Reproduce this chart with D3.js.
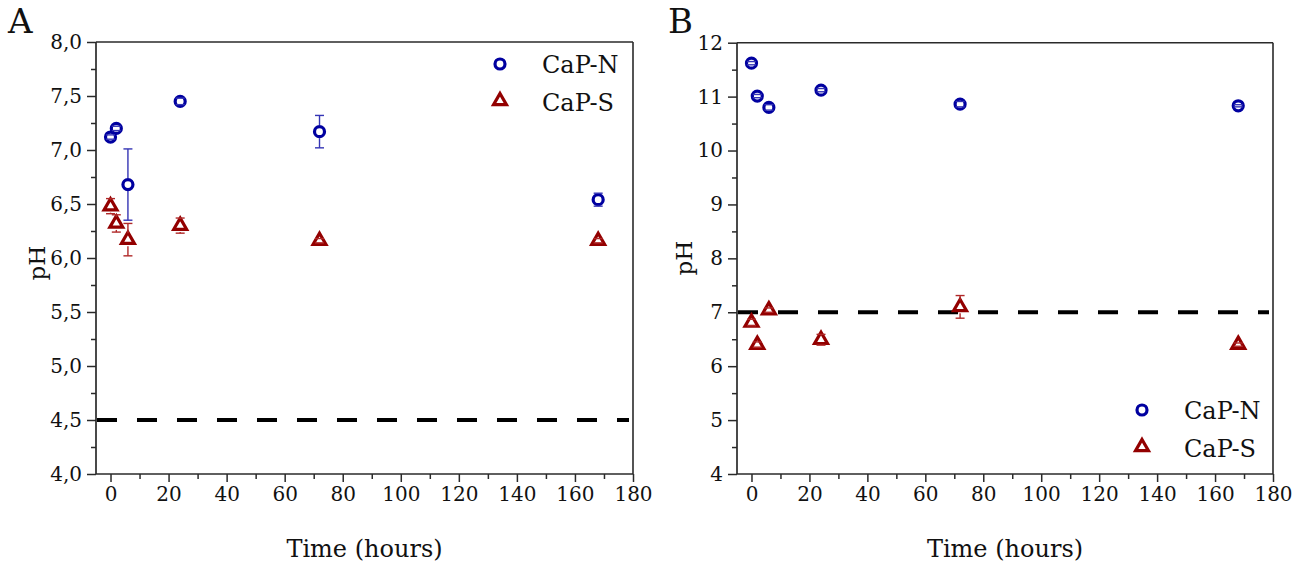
<!DOCTYPE html>
<html>
<head>
<meta charset="utf-8">
<script src="https://cdn.jsdelivr.net/npm/d3@7"></script>
<style>
  html, body { margin: 0; padding: 0; background: #fff; }
  svg { display: block; }
  text { font-family: "DejaVu Serif", "Liberation Serif", serif; fill: #111; }
</style>
</head>
<body>
<svg id="chart" width="1303" height="566"></svg>
<script>
// ---- data ----
const times = [0, 2, 6, 24, 72, 168];

const capN_A     = [7.12, 7.20, 6.68, 7.45, 7.17, 6.54];
const capN_A_err = [0.02, 0.02, 0.33, 0.03, 0.15, 0.06];
const capS_A     = [6.48, 6.32, 6.17, 6.30, 6.16, 6.16];
const capS_A_err = [0.07, 0.08, 0.15, 0.07, 0.02, 0.02];

const capN_B     = [11.62, 11.01, 10.80, 11.12, 10.86, 10.83];
const capN_B_err = [0.03, 0.03, 0.05, 0.03, 0.05, 0.02];
const capS_B     = [6.81, 6.40, 7.04, 6.49, 7.10, 6.40];
const capS_B_err = [0.06, 0.05, 0.04, 0.10, 0.21, 0.03];

const xTicks = [0, 20, 40, 60, 80, 100, 120, 140, 160, 180];
const yTicksA = [4.0, 4.5, 5.0, 5.5, 6.0, 6.5, 7.0, 7.5, 8.0];
const yTicksB = [4, 5, 6, 7, 8, 9, 10, 11, 12];
const refLineA = 4.5;
const refLineB = 7;
const seriesNames = ["CaP-N", "CaP-S"];
const panelLabels = ["A", "B"];
const xTitle = "Time (hours)";
const yTitle = "pH";

// ---- styles ----
const blue = "#0000a0", red = "#930000";
const blueErr = "#3535b5", redErr = "#b02828";
const axisCol = "#2a2a2a";

const svg = d3.select("#chart");

const panels = [
  { label: panelLabels[0], left: 96, right: 633, top: 42, bottom: 474,
    yDomain: [4, 8], yTicks: yTicksA, yMinorStep: 0.25, fmt: v => d3.format(".1f")(v).replace(".", ","),
    ref: refLineA, N: capN_A, Ne: capN_A_err, S: capS_A, Se: capS_A_err,
    legend: { x: 500, y1: 64, y2: 101 }, yTitleX: 37, yTitleY: 263, labelX: 8, labelY: 33 },
  { label: panelLabels[1], left: 737, right: 1273, top: 42.7, bottom: 474,
    yDomain: [4, 12], yTicks: yTicksB, yMinorStep: 0.5, fmt: d3.format("d"),
    ref: refLineB, N: capN_B, Ne: capN_B_err, S: capS_B, Se: capS_B_err,
    legend: { x: 1142, y1: 410, y2: 447 }, yTitleX: 684, yTitleY: 258, labelX: 668, labelY: 33 }
];

const triPath = d3.symbol(d3.symbolTriangle, 72)();
const circR = 5;

panels.forEach(p => {
  const g = svg.append("g");
  const x = d3.scaleLinear().domain([-5, 180]).range([p.left, p.right]);
  const y = d3.scaleLinear().domain(p.yDomain).range([p.bottom, p.top]);

  // frame top & right
  g.append("line").attr("x1", p.left).attr("x2", p.right).attr("y1", p.top).attr("y2", p.top)
    .attr("stroke", axisCol).attr("stroke-width", 1.6);
  g.append("line").attr("x1", p.right).attr("x2", p.right).attr("y1", p.top).attr("y2", p.bottom)
    .attr("stroke", axisCol).attr("stroke-width", 1.6);

  // x axis
  const xAxis = g.append("g").attr("transform", `translate(0,${p.bottom})`)
    .call(d3.axisBottom(x).tickValues(xTicks).tickSize(8).tickSizeOuter(0).tickPadding(5));
  const xMinor = d3.range(10, 180, 20);
  g.append("g").attr("transform", `translate(0,${p.bottom})`)
    .call(d3.axisBottom(x).tickValues(xMinor).tickSize(5).tickSizeOuter(0).tickFormat(""))
    .call(s => s.select(".domain").remove());

  // y axis
  const yAxis = g.append("g").attr("transform", `translate(${p.left},0)`)
    .call(d3.axisLeft(y).tickValues(p.yTicks).tickFormat(p.fmt).tickSize(9).tickSizeOuter(0).tickPadding(5));
  const yMinor = d3.range(p.yDomain[0] + p.yMinorStep, p.yDomain[1], p.yMinorStep * 2);
  g.append("g").attr("transform", `translate(${p.left},0)`)
    .call(d3.axisLeft(y).tickValues(yMinor).tickSize(5).tickSizeOuter(0).tickFormat(""))
    .call(s => s.select(".domain").remove());

  g.selectAll(".domain").attr("stroke", axisCol).attr("stroke-width", 1.7);
  g.selectAll(".tick line").attr("stroke", axisCol).attr("stroke-width", 1.5);
  g.selectAll(".tick text").attr("font-family", "DejaVu Serif, serif").attr("font-size", 20)
    .attr("fill", "#111");
  xAxis.select(".domain").attr("d", `M${p.left},0H${p.right}`);
  yAxis.select(".domain").attr("d", `M0,${p.bottom}V${p.top}`);

  // reference dashed line
  g.append("line").attr("x1", p.left).attr("x2", p.right - 4)
    .attr("y1", y(p.ref)).attr("y2", y(p.ref))
    .attr("stroke", "#000").attr("stroke-width", 4).attr("stroke-dasharray", "20,20")
    .attr("stroke-dashoffset", -1);

  // series
  const series = [
    { vals: p.N, errs: p.Ne, col: blue, ecol: blueErr, shape: "circle", r: circR + 1.5 },
    { vals: p.S, errs: p.Se, col: red, ecol: redErr, shape: "tri", r: 6.5 }
  ];
  series.forEach(s => {
    const pts = times.map((t, i) => ({ t, v: s.vals[i], e: s.errs[i] }));
    pts.forEach(d => {
      if (s.shape === "circle") {
        g.append("circle").attr("cx", x(d.t)).attr("cy", y(d.v)).attr("r", circR)
          .attr("fill", "#fff").attr("stroke", s.col).attr("stroke-width", 3.2);
      } else {
        g.append("path").attr("d", triPath).attr("transform", `translate(${x(d.t)},${y(d.v)})`)
          .attr("fill", "#fff").attr("stroke", s.col).attr("stroke-width", 3.2)
          .attr("stroke-linejoin", "miter");
      }
    });
    pts.forEach(d => {
      const cx = x(d.t), yt = y(d.v + d.e), yb = y(d.v - d.e), yc = y(d.v);
      const eg2 = g.append("g").attr("stroke", s.ecol).attr("stroke-width", 1.4);
      if (yc - s.r > yt) eg2.append("line").attr("x1", cx).attr("x2", cx).attr("y1", yt).attr("y2", yc - s.r);
      if (yc + s.r < yb) eg2.append("line").attr("x1", cx).attr("x2", cx).attr("y1", yc + s.r).attr("y2", yb);
      eg2.append("line").attr("x1", cx - 4.5).attr("x2", cx + 4.5).attr("y1", yt).attr("y2", yt);
      eg2.append("line").attr("x1", cx - 4.5).attr("x2", cx + 4.5).attr("y1", yb).attr("y2", yb);
    });
  });

  // legend
  const L = p.legend;
  g.append("circle").attr("cx", L.x).attr("cy", L.y1).attr("r", circR)
    .attr("fill", "#fff").attr("stroke", blue).attr("stroke-width", 3.2);
  g.append("path").attr("d", triPath).attr("transform", `translate(${L.x},${L.y2})`)
    .attr("fill", "#fff").attr("stroke", red).attr("stroke-width", 3.2);
  g.append("text").attr("x", L.x + 42).attr("y", L.y1).attr("dy", "0.36em")
    .attr("font-size", 24).text(seriesNames[0]);
  g.append("text").attr("x", L.x + 42).attr("y", L.y2 + 1).attr("dy", "0.36em")
    .attr("font-size", 24).text(seriesNames[1]);

  // titles
  g.append("text").attr("x", (p.left + p.right) / 2).attr("y", 557)
    .attr("text-anchor", "middle").attr("font-size", 24).text(xTitle);
  g.append("text").attr("transform", `translate(${p.yTitleX},${p.yTitleY}) rotate(-90)`)
    .attr("text-anchor", "middle").attr("dy", "0.36em").attr("font-size", 23).text(yTitle);
  g.append("text").attr("x", p.labelX).attr("y", p.labelY)
    .attr("font-size", 34).text(p.label);
});
</script>
</body>
</html>
